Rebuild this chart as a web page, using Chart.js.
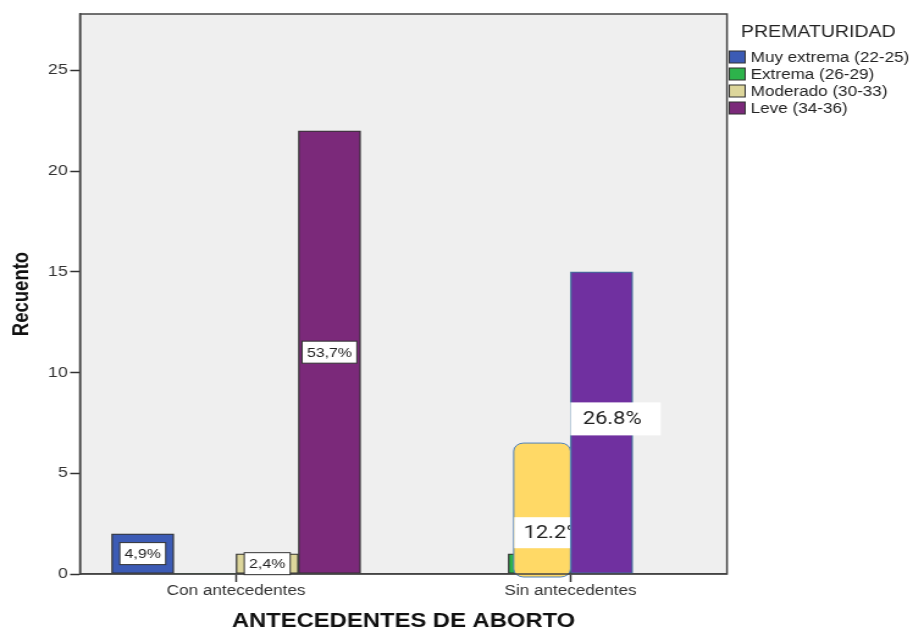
<!DOCTYPE html>
<html>
<head>
<meta charset="utf-8">
<script src="https://cdn.jsdelivr.net/npm/chart.js@4.4.1/dist/chart.umd.min.js"></script>
<style>
  html, body { margin: 0; padding: 0; background: #fff; overflow: hidden; }
  /* the source picture is stretched sideways, so the canvas is too */
  #wrap { width: 748px; height: 633px; transform: scaleX(1.2206); transform-origin: 0 0; }
</style>
</head>
<body>
<div id="wrap"><canvas id="chart" width="748" height="633"></canvas></div>
<script>
const categories = ['Con antecedentes', 'Sin antecedentes'];
const seriesNames = ['Muy extrema (22-25)', 'Extrema (26-29)', 'Moderado (30-33)', 'Leve (34-36)'];
const muyExtrema = [2, null];
const extrema = [0, 1];
const moderado = [1, null];
const leve = [22, 15];
const muyExtremaLabels = ['4,9%', null];
const extremaLabels = [null, null];
const moderadoLabels = ['2,4%', null];
const leveLabels = ['53,7%', null];
const yTicks = [0, 5, 10, 15, 20, 25];
const yMax = 27.8;
// hand-drawn callouts pasted over the "Sin antecedentes" group
const calloutBoxTop = 6.5;
const calloutText = ['12.2%', '26.8%'];
const calloutY = [2.05, 7.7];

const FONT = '"Liberation Sans", Arial, sans-serif';
const fills = ['#3C5BB5', '#2DB34B', '#DDD69B', '#7B297A'];

const toPoints = (arr) => categories.map((c, i) => ({ x: i, y: arr[i] }));
const seriesValues = [muyExtrema, extrema, moderado, leve];
const seriesLabels = [muyExtremaLabels, extremaLabels, moderadoLabels, leveLabels];

const datasets = seriesValues.map((vals, i) => ({
    label: seriesNames[i],
    data: toPoints(vals),
    backgroundColor: i === 3 ? ['#7B297A', '#7030A0'] : fills[i],
    borderColor: i === 3 ? ['#333333', '#41719C'] : '#333333',
    borderWidth: (ctx) => (ctx.raw && ctx.raw.y === 0 ? 0 : 1.3),
    borderSkipped: false,
}));

// plot background, frame, in-bar labels and the pasted callouts
const decor = {
    id: 'decor',
    beforeDraw(chart) {
        const { ctx, chartArea: a } = chart;
        ctx.save();
        ctx.fillStyle = '#EFEFEF';
        ctx.fillRect(a.left, a.top, a.right - a.left, a.bottom - a.top);
        ctx.restore();
    },
    // datasets are painted last to first, so the green one comes after the purple
    afterDatasetDraw(chart, args) {
        if (args.index !== 1) return;
        const { ctx } = chart;
        const y = chart.scales.y;
        const green = chart.getDatasetMeta(1).data[1];
        const left = green.x - green.width / 2 + 4.5;
        const right = green.x + green.width / 2;
        const top = y.getPixelForValue(calloutBoxTop);
        const bottom = y.getPixelForValue(0) + 3;
        ctx.save();
        ctx.beginPath();
        ctx.roundRect(left, top, right - left, bottom - top, 8);
        ctx.fillStyle = '#FFD966';
        ctx.fill();
        ctx.strokeStyle = '#4F81BD';
        ctx.lineWidth = 1;
        ctx.stroke();
        // the white band and its text are hidden behind the purple bar
        ctx.beginPath();
        ctx.rect(left - 2, top, right - left + 1.5, bottom - top + 4);
        ctx.clip();
        const cy = y.getPixelForValue(calloutY[0]);
        ctx.fillStyle = '#ffffff';
        ctx.fillRect(left + 0.5, cy - 15.5, right - left + 12, 31);
        ctx.fillStyle = '#222';
        ctx.font = '18px Roboto';
        ctx.textBaseline = 'middle';
        ctx.textAlign = 'left';
        ctx.fillText(calloutText[0], left + 8, cy + 1);
        ctx.restore();
    },
    afterDatasetsDraw(chart) {
        const { ctx, chartArea: a } = chart;
        ctx.save();
        ctx.strokeStyle = '#444';
        ctx.lineWidth = 1.5;
        ctx.strokeRect(a.left, a.top, a.right - a.left, a.bottom - a.top);

        // SPSS style labels
        ctx.font = '13px ' + FONT;
        ctx.textAlign = 'center';
        ctx.textBaseline = 'middle';
        seriesLabels.forEach((labels, i) => {
            chart.getDatasetMeta(i).data.forEach((bar, j) => {
                if (!labels[j]) return;
                const cx = bar.x;
                const cy = (bar.y + bar.base) / 2;
                const w = ctx.measureText(labels[j]).width + 8;
                ctx.fillStyle = '#fff';
                ctx.fillRect(cx - w / 2, cy - 11, w, 22);
                ctx.strokeStyle = '#333';
                ctx.lineWidth = 1;
                ctx.strokeRect(cx - w / 2, cy - 11, w, 22);
                ctx.fillStyle = '#222';
                ctx.fillText(labels[j], cx, cy + 1);
            });
        });

        // 26.8% callout
        const purple = chart.getDatasetMeta(3).data[1];
        const bx = purple.x - purple.width / 2;
        const by = chart.scales.y.getPixelForValue(calloutY[1]);
        ctx.fillStyle = '#fff';
        ctx.fillRect(bx, by - 16.5, 74, 33);
        ctx.fillStyle = '#222';
        ctx.font = '18px Roboto';
        ctx.textAlign = 'left';
        ctx.fillText(calloutText[1], bx + 10, by + 1);
        ctx.restore();
    },
    afterDraw(chart) {
        const { ctx } = chart;
        ctx.save();
        ctx.fillStyle = '#222';
        ctx.font = '16px ' + FONT;
        ctx.textBaseline = 'alphabetic';
        ctx.textAlign = 'left';
        ctx.fillText('PREMATURIDAD', 607, 37);
        ctx.font = '14px ' + FONT;
        ctx.textBaseline = 'middle';
        seriesNames.forEach((name, i) => {
            const cy = 57 + i * 17;
            ctx.fillStyle = fills[i];
            ctx.fillRect(597.5, cy - 6, 13, 12);
            ctx.strokeStyle = '#333';
            ctx.lineWidth = 1;
            ctx.strokeRect(597.5, cy - 6, 13, 12);
            ctx.fillStyle = '#222';
            ctx.fillText(name, 615, cy + 1);
        });
        ctx.restore();
    }
};

new Chart(document.getElementById('chart'), {
    type: 'bar',
    data: { datasets },
    options: {
        responsive: false,
        animation: false,
        devicePixelRatio: 1,
        barThickness: 51,
        skipNull: true,
        layout: { padding: { top: 14, right: 152.4, bottom: 0, left: 0 } },
        plugins: { legend: { display: false }, tooltip: { enabled: false } },
        scales: {
            x: {
                type: 'linear',
                min: -0.467,
                max: 1.468,
                offset: false,
                afterBuildTicks: (s) => { s.ticks = categories.map((c, i) => ({ value: i })); },
                afterFit: (s) => { s.height = 59; },
                ticks: {
                    callback: (v) => categories[v],
                    autoSkip: false,
                    maxRotation: 0,
                    padding: 1,
                    color: '#333',
                    font: { family: FONT, size: 14 }
                },
                grid: { offset: false, drawOnChartArea: false, drawTicks: true, tickLength: 8, tickColor: '#333', tickWidth: 1.5 },
                border: { display: true, color: '#444', width: 1.5 },
                title: {
                    display: true,
                    text: 'ANTECEDENTES DE ABORTO',
                    color: '#111',
                    font: { family: FONT, size: 19.5, weight: 'bold' },
                    padding: { top: 0, bottom: 0 }
                }
            },
            y: {
                min: 0,
                max: yMax,
                afterBuildTicks: (s) => { s.ticks = yTicks.map((v) => ({ value: v })); },
                afterFit: (s) => { s.width = 65.5; },
                ticks: { padding: 2, color: '#333', font: { family: FONT, size: 14.5 } },
                grid: { drawOnChartArea: false, drawTicks: true, tickLength: 8, tickColor: '#333', tickWidth: 1.5 },
                border: { display: true, color: '#444', width: 1.5 },
                title: {
                    display: true,
                    text: 'Recuento',
                    color: '#111',
                    font: { family: FONT, size: 18.5, weight: 'bold' },
                    padding: { top: 7, bottom: 0 }
                }
            }
        }
    },
    plugins: [decor]
});
</script>
</body>
</html>
